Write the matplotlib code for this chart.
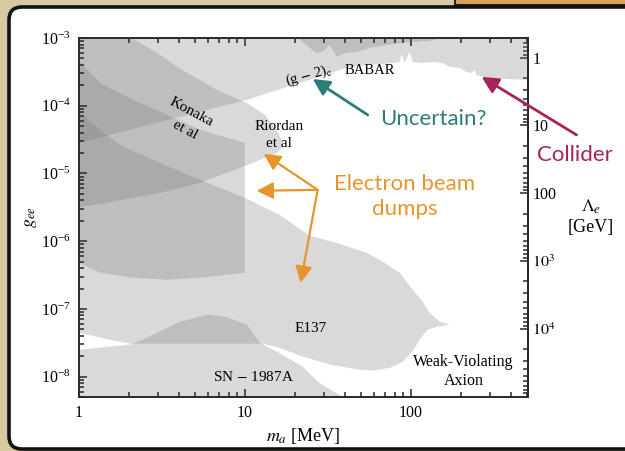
"""Axion-electron coupling limits, recreated as a slide panel."""

import matplotlib
matplotlib.use("Agg")
import matplotlib.pyplot as plt
import numpy as np
from matplotlib.patches import FancyBboxPatch, Rectangle
from matplotlib.ticker import FixedLocator, FuncFormatter, LogLocator, NullFormatter

plt.rcParams["font.family"] = ["Liberation Serif", "DejaVu Serif"]
plt.rcParams["mathtext.fontset"] = "stix"

# ---- axis ranges -------------------------------------------------------
M_RANGE = (1.0, 510.0)      # m_a [MeV]
G_RANGE = (5e-9, 1e-3)      # g_ee
M_E_GEV = 0.511e-3          # Lambda_e = m_e / g_ee  [GeV]
X_TICKS = [1, 10, 100]
LAMBDA_TICKS = [1, 10, 100, 1e3, 1e4]

# ---- exclusion regions -------------------------------------------------
# (g-2)_e : everything above this line
G2_M = [1.0, 3.08, 10.3, 21.4, 37.4, 86.0, 150.0]
G2_G = [2.83e-5, 5.77e-5, 1.22e-4, 2.17e-4, 3.37e-4, 6.22e-4, 1.0e-3]

# Konaka / Riordan type beam dump, outline from top edge round the nose
RIO_M = [2.09, 3.08, 4.0, 6.97, 10.3, 13.2, 15.2, 16.7, 16.9, 15.6, 13.2,
         11.2, 8.12, 5.36, 3.08, 2.12, 1.34, 1.0]
RIO_G = [1.0e-3, 5.61e-4, 3.61e-4, 1.65e-4, 1.10e-4, 7.31e-5, 4.71e-5,
         3.13e-5, 2.47e-5, 2.01e-5, 1.70e-5, 1.43e-5, 1.06e-5, 7.26e-6,
         5.18e-6, 4.37e-6, 3.56e-6, 3.21e-6]

# beam dump ending at 10 MeV
V_M = [1.0, 1.34, 2.12, 3.39, 5.36, 10.0]
V_UP = [4.6e-4, 2.17e-4, 1.22e-4, 7.3e-5, 4.4e-5, 2.83e-5]
V_LO = [4.8e-7, 3.42e-7, 2.88e-7, 2.7e-7, 2.88e-7, 3.42e-7]

# E137: upper edge to the nose, then lower edge back
E137_UP_M = [1.0, 1.34, 1.77, 3.08, 5.36, 10.0, 16.2, 24.6, 33.9, 54.3,
             67.8, 85.9, 102.8, 118.0, 130.0, 150.0, 172.0]
E137_UP_G = [8.11e-5, 4.40e-5, 2.64e-5, 1.43e-5, 8.05e-6, 4.37e-6, 2.45e-6,
             1.20e-6, 9.8e-7, 6.75e-7, 4.97e-7, 3.42e-7, 1.92e-7, 1.28e-7,
             8.79e-8, 6.47e-8, 5.85e-8]
E137_LO_M = [145.5, 126.6, 116.4, 104.2, 89.5, 75.8, 60.7, 48.6, 33.0, 22.4,
             16.0, 12.8, 2.03, 1.43, 1.0]
E137_LO_G = [5.46e-8, 4.93e-8, 3.89e-8, 2.50e-8, 1.66e-8, 1.36e-8, 1.23e-8,
             1.27e-8, 1.50e-8, 1.97e-8, 2.68e-8, 3.07e-8, 3.07e-8, 3.63e-8,
             4.46e-8]

# SN 1987A: everything below this edge
SN_M = [1.0, 2.03, 2.43, 4.06, 5.90, 7.58, 10.3, 12.3, 16.0, 22.4, 27.9, 38.9]
SN_G = [2.50e-8, 2.96e-8, 3.52e-8, 6.47e-8, 8.20e-8, 7.67e-8, 5.85e-8,
        3.17e-8, 2.26e-8, 1.40e-8, 8.17e-9, 5e-9]

# jagged region at the top (overlaps the (g-2) band)
TOP_M = [21.4, 22.0, 23.6, 24.6, 27.1, 29.1, 30.3, 32.5, 34.4, 35.8, 40.0,
         47.3, 56.6, 71.7, 98.6, 130.0, 150.0]
TOP_G = [1.0e-3, 9.03e-4, 7.88e-4, 7.13e-4, 6.01e-4, 6.22e-4, 6.65e-4,
         7.88e-4, 6.22e-4, 5.25e-4, 6.01e-4, 6.22e-4, 7.13e-4, 7.88e-4,
         8.73e-4, 9.03e-4, 1.0e-3]

# BABAR / collider: lower edge, region above is excluded
BABAR_M = [42.9, 56.6, 80.1, 85.9, 88.3, 92.0, 98.6, 102.8, 118.0, 135.7,
           156.0, 172.0, 197.0, 217.0, 233.0, 243.0, 250.0, 287.0, 379.0,
           507.0, 600.0]
BABAR_G = [3.73e-4, 4.00e-4, 4.28e-4, 4.43e-4, 5.81e-4, 4.28e-4, 6.22e-4,
           4.43e-4, 4.28e-4, 4.43e-4, 4.28e-4, 3.73e-4, 3.61e-4, 3.16e-4,
           3.05e-4, 3.37e-4, 2.85e-4, 2.57e-4, 2.48e-4, 2.40e-4, 2.40e-4]

ORANGE = "#E8942C"
TEAL = "#2E7C79"
CRIMSON = "#A3235A"
SHADE = dict(facecolor="#787878", alpha=0.28, linewidth=0)

fig = plt.figure(figsize=(6.25, 4.51), dpi=100, facecolor="#D7C9A2")

# slide frame behind the plot (pixel units)
bg = fig.add_axes([0, 0, 1, 1], zorder=-10)
bg.set_xlim(0, 625)
bg.set_ylim(451, 0)
bg.axis("off")
bg.add_patch(Rectangle((455, -4), 260, 9, facecolor="#DBA35A",
                       edgecolor="#222222", lw=1.5))
bg.add_patch(FancyBboxPatch((9, 7), 760, 442,
                            boxstyle="round,pad=0,rounding_size=13",
                            facecolor="white", edgecolor="#111111", lw=2.6))

ax = fig.add_axes([79 / 625, 1 - 397 / 451, 449 / 625, 359 / 451])
ax.set_xscale("log")
ax.set_yscale("log")
ax.set_xlim(*M_RANGE)
ax.set_ylim(*G_RANGE)

ax.fill_between(G2_M, G2_G, G_RANGE[1], **SHADE)
ax.fill([1.0] + RIO_M, [G_RANGE[1]] + RIO_G, **SHADE)
ax.fill_between(V_M, V_LO, V_UP, **SHADE)
ax.fill(E137_UP_M + E137_LO_M, E137_UP_G + E137_LO_G, **SHADE)
ax.fill(SN_M + [1.0], SN_G + [G_RANGE[0]], **SHADE)
ax.fill_between(TOP_M, TOP_G, G_RANGE[1], **SHADE)
g2_edge = [(m, g) for m, g in zip(G2_M, G2_G) if m > BABAR_M[0]][::-1]
ax.fill(BABAR_M + [BABAR_M[-1]] + [p[0] for p in g2_edge],
        BABAR_G + [G_RANGE[1]] + [p[1] for p in g2_edge], **SHADE)

# region labels
lab = dict(ha="center", va="center", fontsize=11)
ax.text(4.73, 8.1e-5, "Konaka", rotation=-28, rotation_mode="anchor", **lab)
ax.text(4.35, 4.4e-5, "et al", rotation=-28, rotation_mode="anchor", **lab)
ax.text(16.0, 4.86e-5, "Riordan", **lab)
ax.text(16.0, 2.74e-5, "et al", **lab)
ax.text(24.3, 2.85e-4, r"(g $-$ 2)$_{\rm e}$", rotation=15,
        rotation_mode="anchor", ha="center", va="center", fontsize=10.5)
ax.text(56.6, 3.26e-4, "BABAR", ha="center", va="center", fontsize=10.5)
ax.text(25.0, 5.1e-8, "E137", **lab)
ax.text(11.2, 1.0e-8, "SN $-$ 1987A", **lab)
ax.text(208, 1.66e-8, "Weak-Violating", ha="center", va="center", fontsize=11.5)
ax.text(208, 8.7e-9, "Axion", ha="center", va="center", fontsize=11.5)

# slide annotations
note = dict(ha="center", va="center", fontsize=16, family=["Lato", "DejaVu Sans"])
ax.text(138, 6.38e-5, "Uncertain?", color=TEAL, **note)
ax.text(973, 1.88e-5, "Collider", color=CRIMSON, clip_on=False, **note)
ax.text(92, 4.52e-6, "Electron beam\ndumps", color=ORANGE, linespacing=1.3, **note)

head = "-|>,head_length=0.55,head_width=0.28"
for tip in [(13.0, 1.95e-5), (11.8, 5.53e-6), (21.7, 2.43e-7)]:
    ax.annotate("", xy=tip, xytext=(27.5, 5.73e-6),
                arrowprops=dict(arrowstyle=head, color=ORANGE, lw=1.6,
                                mutation_scale=18, shrinkA=0, shrinkB=0))
ax.annotate("", xy=(25.7, 2.48e-4), xytext=(55.1, 7.31e-5),
            arrowprops=dict(arrowstyle=head, color=TEAL, lw=2.0,
                            mutation_scale=18, shrinkA=0, shrinkB=0))
ax.annotate("", xy=(268, 2.66e-4), xytext=(1000, 3.71e-5), annotation_clip=False,
            arrowprops=dict(arrowstyle=head, color=CRIMSON, lw=2.0,
                            mutation_scale=18, shrinkA=0, shrinkB=0))

# axes, ticks, labels
for s in ax.spines.values():
    s.set_color("#2a2a2a")
    s.set_linewidth(1.4)
ax.xaxis.set_major_locator(FixedLocator(X_TICKS))
ax.xaxis.set_major_formatter(FuncFormatter(lambda v, _: f"{v:g}"))
ax.xaxis.set_minor_locator(LogLocator(base=10, subs=np.arange(2, 10)))
ax.xaxis.set_minor_formatter(NullFormatter())
ax.yaxis.set_minor_locator(LogLocator(base=10, subs=np.arange(2, 10), numticks=20))
ax.yaxis.set_minor_formatter(NullFormatter())
ax.tick_params(which="both", direction="in", top=True, right=False,
               labelsize=11.5, color="#2a2a2a", width=1.1, pad=6)
ax.tick_params(which="major", length=6)
ax.tick_params(which="minor", length=3.5)
ax.set_xlabel(r"$m_a$ [MeV]", fontsize=13)
ax.xaxis.set_label_coords(0.5, -0.08)
ax.set_ylabel(r"$g_{ee}$", fontsize=13)
ax.yaxis.set_label_coords(-0.088, 0.5)

with np.errstate(divide="ignore"):
    sec = ax.secondary_yaxis("right", functions=(lambda g: M_E_GEV / g,
                                                 lambda lam: M_E_GEV / lam))
sec.yaxis.set_major_locator(FixedLocator(LAMBDA_TICKS))
sec.yaxis.set_major_formatter(FuncFormatter(
    lambda v, _: f"{v:g}" if v <= 100 else rf"$10^{{{int(round(np.log10(v)))}}}$"))
sec.yaxis.set_minor_locator(LogLocator(base=10, subs=np.arange(2, 10), numticks=20))
sec.yaxis.set_minor_formatter(NullFormatter())
sec.tick_params(which="both", direction="in", labelsize=11.5,
                color="#2a2a2a", width=1.1, pad=3)
sec.tick_params(which="major", length=6)
sec.tick_params(which="minor", length=3.5)
sec.spines["right"].set_color("#2a2a2a")
sec.spines["right"].set_linewidth(1.4)
fig.text(591 / 625, 1 - 217 / 451, "$\\Lambda_e$\n[GeV]", ha="center",
         va="center", fontsize=13, linespacing=1.2)

fig.savefig("out.png", dpi=100, facecolor=fig.get_facecolor())
